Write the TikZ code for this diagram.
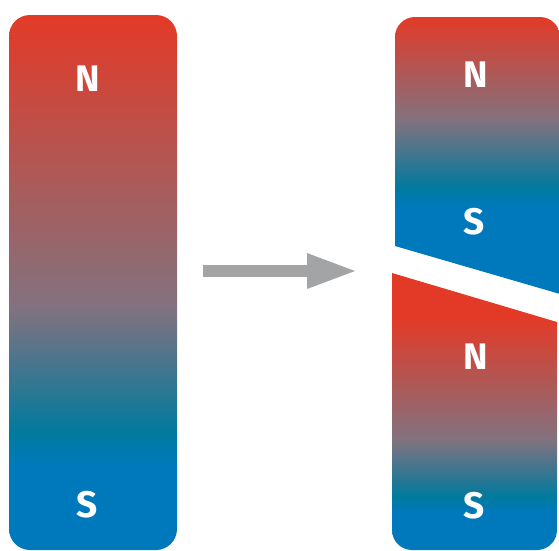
\documentclass[tikz,border=0pt]{standalone}
\usepackage{fontspec}
\setsansfont{Fira Sans}
\usepackage{tikz}
\usetikzlibrary{arrows.meta}
\definecolor{polered}{RGB}{227,58,39}
\definecolor{polemauve}{RGB}{130,114,127}
\definecolor{poleteal}{RGB}{0,122,158}
\definecolor{poleblue}{RGB}{0,121,188}
\definecolor{arrowgray}{RGB}{163,164,166}
% vertical shadings, 25bp = bottom of the shape, 75bp = top
\pgfdeclareverticalshading{leftbar}{100bp}{color(0bp)=(poleblue); color(25bp)=(poleblue);
  color(32.9bp)=(poleblue); color(35.9bp)=(poleteal); color(47.7bp)=(polemauve);
  color(75bp)=(polered); color(100bp)=(polered)}
\pgfdeclareverticalshading{upperhalf}{100bp}{color(0bp)=(poleblue); color(25bp)=(poleblue);
  color(41.1bp)=(poleblue); color(44.1bp)=(poleteal); color(56.4bp)=(polemauve);
  color(75bp)=(polered); color(100bp)=(polered)}
\pgfdeclareverticalshading{lowerhalf}{100bp}{color(0bp)=(poleblue); color(25bp)=(poleblue);
  color(31.9bp)=(poleblue); color(34.6bp)=(poleteal); color(44.9bp)=(polemauve);
  color(66.9bp)=(polered); color(100bp)=(polered)}
\tikzset{
  polelabel/.style={text=white,font=\fontsize{37}{37}\selectfont\sffamily\bfseries,inner sep=0pt},
  splitarrow/.style={draw=arrowgray,line width=12pt,-{Triangle[length=48pt,width=36pt,line width=0pt]}},
}
\begin{document}
\begin{tikzpicture}[x=1pt,y=-1pt]
  \useasboundingbox (0,0) rectangle (559,550);
  % left: whole magnet
  \shade[shading=leftbar,rounded corners=21pt] (9,15) rectangle (177,550);
  \node[polelabel] (nwhole) at (88,79) {N};
  \node[polelabel] (swhole) at (87,505) {S};
  % middle: arrow
  \coordinate (arrowstart) at (203,271);
  \coordinate (arrowend) at (355,271);
  \draw[splitarrow] (arrowstart) -- (arrowend);
  % right: broken magnet, upper piece
  \shade[shading=upperhalf] (395,246) [rounded corners=20pt] -- (395,17) -- (560,17)
    [sharp corners] -- (560,294) -- cycle;
  \node[polelabel] (nupper) at (476,75) {N};
  \node[polelabel] (supper) at (474,222) {S};
  % right: broken magnet, lower piece
  \shade[shading=lowerhalf] (392,273) -- (557,322) [rounded corners=20pt] -- (557,550)
    -- (392,550) [sharp corners] -- cycle;
  \node[polelabel] (nlower) at (476,357) {N};
  \node[polelabel] (slower) at (474,506) {S};
\end{tikzpicture}
\end{document}
